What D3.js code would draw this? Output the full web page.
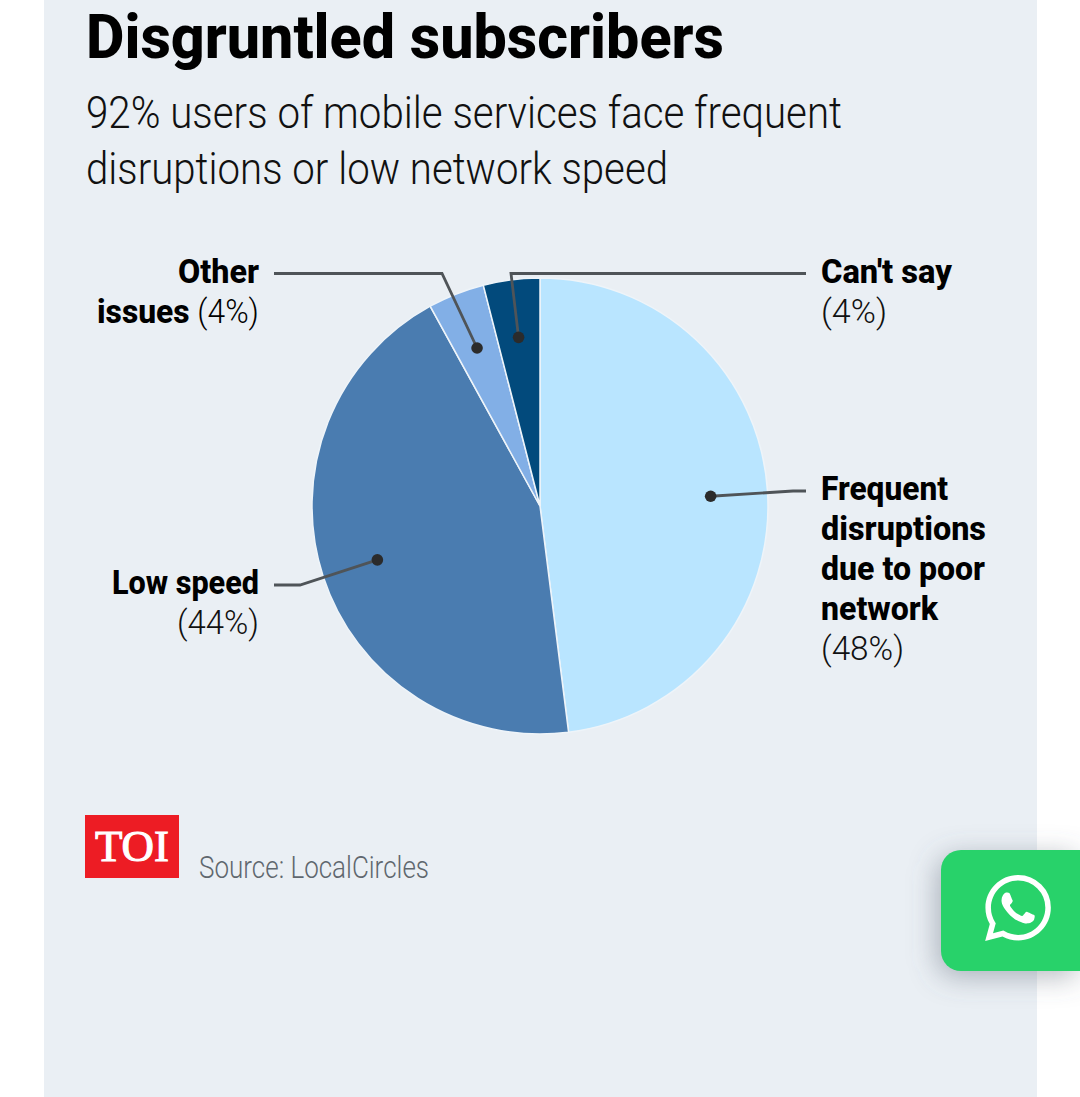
<!DOCTYPE html>
<html>
<head>
<meta charset="utf-8">
<script src="https://cdn.jsdelivr.net/npm/d3@7"></script>
<style>
html, body { margin: 0; padding: 0; background: #fff; }
svg { display: block; }
text { font-family: "Roboto", sans-serif; }
</style>
</head>
<body>
<div id="chart"></div>
<script>
// data
const categories = ['Frequent disruptions due to poor network', 'Low speed', 'Other issues', "Can't say"];
const values = [48, 44, 4, 4];
const sliceColors = ['#b9e5ff', '#4a7cb0', '#82afe6', '#024a7c'];

const title = 'Disgruntled subscribers';
const subtitleLines = ['92% users of mobile services face frequent', 'disruptions or low network speed'];
const source = 'Source: LocalCircles';
const logoText = 'TOI';

const W = 1080, H = 1097;
const cx = 540, cy = 506, R = 228;

const svg = d3.select('#chart').append('svg')
  .attr('width', W)
  .attr('height', H);

// shadow for the whatsapp button
const defs = svg.append('defs');
const blur = defs.append('filter').attr('id', 'btnShadow')
  .attr('x', '-40%').attr('y', '-40%').attr('width', '180%').attr('height', '180%');
blur.append('feGaussianBlur').attr('stdDeviation', 14);

// panel
svg.append('rect')
  .attr('x', 44).attr('y', 0)
  .attr('width', 993).attr('height', H)
  .attr('fill', '#eaeff4');

// fits a line of text to the width it has in the reference
function textLine(x, y, width, size, runs, fill) {
  const t = svg.append('text')
    .attr('x', x).attr('y', y)
    .attr('font-size', size)
    .attr('fill', fill || '#000')
    .attr('textLength', width)
    .attr('lengthAdjust', 'spacingAndGlyphs');
  runs.forEach(r => {
    t.append('tspan')
      .attr('font-weight', r.bold ? 800 : 300)
      .text(r.text);
  });
  return t;
}

textLine(86, 58, 638, 62, [{text: title, bold: true}]);
textLine(86, 128, 756, 45, [{text: subtitleLines[0]}], '#111');
textLine(86, 184, 582, 45, [{text: subtitleLines[1]}], '#111');

// pie
const pie = d3.pie().sort(null).value(d => d);
const arcs = pie(values);
const arc = d3.arc().innerRadius(0).outerRadius(R);
const anchorArc = d3.arc().innerRadius(R / 2).outerRadius(R);

const g = svg.append('g').attr('transform', `translate(${cx},${cy})`);
g.selectAll('path')
  .data(arcs)
  .enter()
  .append('path')
  .attr('d', arc)
  .attr('fill', (d, i) => sliceColors[i])
  .attr('stroke', '#eef4f9')
  .attr('stroke-width', 1.5);

// leader lines start at the slice anchor, then go through these points
const leaderRoutes = [
  [[793, 491], [806, 491]],
  [[300, 585], [274, 585]],
  [[442, 273.5], [274, 273.5]],
  [[511, 273.5], [806, 273.5]]
];
const lineGen = d3.line();
arcs.forEach((d, i) => {
  const c = anchorArc.centroid(d);
  const start = [c[0] + cx, c[1] + cy + 1];
  svg.append('path')
    .attr('d', lineGen([start].concat(leaderRoutes[i])))
    .attr('fill', 'none')
    .attr('stroke', '#4f5458')
    .attr('stroke-width', 2.8);
  svg.append('circle')
    .attr('cx', start[0]).attr('cy', start[1])
    .attr('r', 5.8)
    .attr('fill', '#2b2b2b');
});

// labels, the percentages come from values
const pct = i => `(${values[i]}%)`;
const labelSize = 33;
textLine(821, 500, 127, labelSize, [{text: 'Frequent', bold: true}]);
textLine(821, 540, 165, labelSize, [{text: 'disruptions', bold: true}]);
textLine(821, 580, 164, labelSize, [{text: 'due to poor', bold: true}]);
textLine(821, 620, 117, labelSize, [{text: 'network', bold: true}]);
textLine(821, 660, 83, labelSize, [{text: pct(0)}], '#111');

textLine(112, 594, 147, labelSize, [{text: categories[1], bold: true}]);
textLine(177, 634, 82, labelSize, [{text: pct(1)}], '#111');

textLine(178, 283, 81, labelSize, [{text: 'Other', bold: true}]);
textLine(97, 323, 162, labelSize, [{text: 'issues', bold: true}, {text: ' ' + pct(2)}]);

textLine(821, 283, 131, labelSize, [{text: categories[3], bold: true}]);
textLine(821, 323, 66, labelSize, [{text: pct(3)}], '#111');

// logo + source
svg.append('rect')
  .attr('x', 85).attr('y', 815)
  .attr('width', 94).attr('height', 63)
  .attr('fill', '#ed1c24');
svg.append('text')
  .attr('x', 95).attr('y', 861)
  .attr('font-size', 44)
  .attr('font-weight', 400)
  .attr('stroke', '#fff')
  .attr('stroke-width', 1.1)
  .attr('fill', '#fff')
  .attr('textLength', 74)
  .attr('lengthAdjust', 'spacingAndGlyphs')
  .style('font-family', '"Liberation Serif", serif')
  .text(logoText);
textLine(199, 878, 230, 31, [{text: source}], '#5f676e');

// whatsapp button
const btnPath = 'M961 850H1080V971H961A20 20 0 0 1 941 951V870A20 20 0 0 1 961 850Z';
svg.append('path')
  .attr('d', btnPath)
  .attr('transform', 'translate(-4,6)')
  .attr('fill', '#5b6673')
  .attr('fill-opacity', 0.45)
  .attr('filter', 'url(#btnShadow)');
svg.append('path')
  .attr('d', btnPath)
  .attr('fill', '#28d26a');
svg.append('path')
  .attr('transform', 'translate(985,875) scale(2.75)')
  .attr('fill', '#fff')
  .attr('d', 'M17.472 14.382c-.297-.149-1.758-.867-2.03-.967-.273-.099-.471-.148-.67.15-.197.297-.767.966-.94 1.164-.173.199-.347.223-.644.075-.297-.15-1.255-.463-2.39-1.475-.883-.788-1.48-1.761-1.653-2.059-.173-.297-.018-.458.13-.606.134-.133.298-.347.446-.52.149-.174.198-.298.298-.497.099-.198.05-.371-.025-.52-.075-.149-.669-1.612-.916-2.207-.242-.579-.487-.5-.669-.51-.173-.008-.371-.01-.57-.01-.198 0-.52.074-.792.372-.272.297-1.04 1.016-1.04 2.479 0 1.462 1.065 2.875 1.213 3.074.149.198 2.096 3.2 5.077 4.487.709.306 1.262.489 1.694.625.712.227 1.36.195 1.871.118.571-.085 1.758-.719 2.006-1.413.248-.694.248-1.289.173-1.413-.074-.124-.272-.198-.57-.347m-5.421 7.403h-.004a9.87 9.87 0 01-5.031-1.378l-.361-.214-3.741.982.998-3.648-.235-.374a9.86 9.86 0 01-1.51-5.26c.001-5.45 4.436-9.884 9.888-9.884 2.64 0 5.122 1.03 6.988 2.898a9.825 9.825 0 012.893 6.994c-.003 5.45-4.437 9.884-9.885 9.884m8.413-18.297A11.815 11.815 0 0012.05 0C5.495 0 .16 5.335.157 11.892c0 2.096.547 4.142 1.588 5.945L.057 24l6.305-1.654a11.882 11.882 0 005.683 1.448h.005c6.554 0 11.89-5.335 11.893-11.893a11.821 11.821 0 00-3.48-8.413z');
</script>
</body>
</html>
